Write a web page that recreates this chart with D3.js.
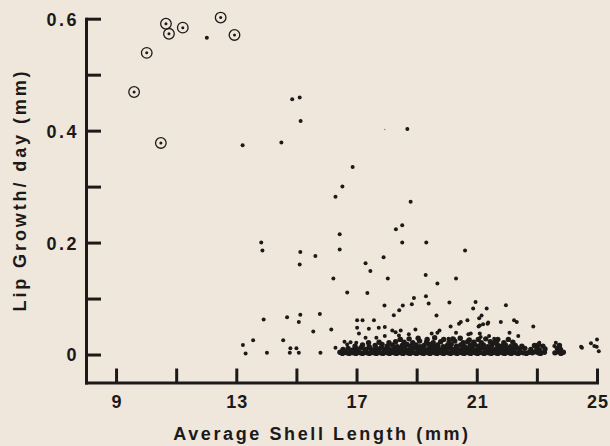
<!DOCTYPE html>
<html><head><meta charset="utf-8">
<script src="https://cdn.jsdelivr.net/npm/d3@7"></script>
<style>
html,body{margin:0;padding:0;background:#efe7dc;}
svg{display:block;}
text{font-family:"Liberation Sans",Arial,Helvetica,sans-serif;font-weight:bold;fill:#1c1a19;}
</style></head>
<body>
<svg id="chart" width="610" height="446"></svg>
<script>
// ---- data ----
const xTicks = [9, 11, 13, 15, 17, 19, 21, 23, 25];
const xTickLabels = {9: "9", 13: "13", 17: "17", 21: "21", 25: "25"};
const yTicks = [0, 0.1, 0.2, 0.3, 0.4, 0.5, 0.6];
const yTickLabels = {"0.0": "0", "0.2": "0.2", "0.4": "0.4", "0.6": "0.6"};
const xTitle = "Average Shell Length (mm)";
const yTitle = "Lip Growth/ day (mm)";

// circled observations [shell length, lip growth]
const circledPoints = [
  [10.66, 0.591], [10.76, 0.573], [11.22, 0.584], [12.48, 0.602], [12.94, 0.571],
  [10.02, 0.539], [9.60, 0.469], [10.49, 0.378]
];

// scattered single observations
const scatterPoints = [
  [12.02, 0.566], [13.21, 0.374], [14.86, 0.456], [15.11, 0.459], [15.14, 0.417], [14.50, 0.379],
  [18.69, 0.403], [16.87, 0.335], [16.53, 0.300], [16.30, 0.282], [18.80, 0.273], [18.52, 0.231],
  [18.31, 0.224], [16.44, 0.215], [13.83, 0.200], [13.87, 0.186], [15.13, 0.183], [15.63, 0.176],
  [16.44, 0.1875], [15.11, 0.161], [18.52, 0.200], [19.32, 0.200], [20.61, 0.186], [17.90, 0.174],
  [17.30, 0.163], [17.46, 0.149], [19.30, 0.142], [16.23, 0.136], [18.04, 0.136], [20.31, 0.136],
  [19.69, 0.127], [16.69, 0.111], [17.36, 0.110], [19.31, 0.104], [18.91, 0.101], [20.09, 0.093],
  [20.96, 0.094], [21.97, 0.088], [19.40, 0.091], [17.93, 0.0875], [18.54, 0.0875], [18.84, 0.090],
  [21.33, 0.082], [20.88, 0.082], [18.42, 0.079], [18.24, 0.070], [19.66, 0.0696], [21.16, 0.0696],
  [13.91, 0.0625], [14.69, 0.0666], [15.13, 0.071], [15.08, 0.058], [15.78, 0.0726], [16.16, 0.0446],
  [15.56, 0.041], [14.56, 0.0256], [13.56, 0.0256], [13.22, 0.017], [13.31, 0.002], [14.02, 0.003],
  [14.80, 0.011], [15.00, 0.011], [14.78, 0.003], [15.08, 0.003], [15.80, 0.003],
  [17.02, 0.061], [17.20, 0.061], [17.58, 0.061], [17.02, 0.048], [17.41, 0.046], [17.74, 0.048],
  [17.94, 0.049], [18.19, 0.043], [18.47, 0.043], [18.96, 0.0446], [19.76, 0.043], [20.13, 0.050],
  [20.47, 0.058], [20.69, 0.061], [21.10, 0.052], [21.38, 0.057], [21.80, 0.058], [22.24, 0.061],
  [22.33, 0.058], [22.88, 0.050], [22.09, 0.039], [22.38, 0.033], [20.31, 0.039], [20.80, 0.0375],
  [21.13, 0.0315], [21.58, 0.028], [24.47, 0.014], [25.00, 0.027], [24.91, 0.015], [25.06, 0.006],
  [23.58, 0.015], [23.80, 0.010], [16.30, 0.012], [16.60, 0.0226], [16.69, 0.018], [17.08, 0.0375],
  [18.30, 0.040], [18.74, 0.036], [18.41, 0.034], [17.30, 0.030], [17.66, 0.030], [17.94, 0.033],
  [16.80, 0.022], [16.99, 0.021], [18.47, 0.028], [20.41, 0.055], [19.69, 0.039], [19.50, 0.0375],
  [20.72, 0.036], [20.06, 0.028], [20.24, 0.028], [21.08, 0.065], [21.36, 0.055], [21.21, 0.054],
  [21.06, 0.050], [21.10, 0.0375], [21.41, 0.033], [23.08, 0.021], [23.63, 0.021], [24.50, 0.012],
  [24.80, 0.020], [24.99, 0.014]
];
const faintPoints = [[17.94, 0.402]];

// dense band of observations near zero growth
const bandPoints = [
  [16.45,.004],[16.53,.002],[16.60,.005],[16.68,.003],[16.76,.002],[16.83,.005],[16.90,.003],[16.98,.002],
  [17.06,.004],[17.13,.003],[17.20,.002],[17.28,.005],[17.35,.003],[17.43,.002],[17.50,.004],[17.58,.003],
  [17.66,.002],[17.73,.005],[17.80,.003],[17.88,.002],[17.95,.004],[18.03,.003],[18.10,.002],[18.18,.005],
  [18.25,.003],[18.33,.002],[18.40,.004],[18.48,.003],[18.55,.002],[18.63,.005],[18.70,.003],[18.78,.002],
  [18.85,.004],[18.93,.003],[19.00,.002],[19.08,.005],[19.15,.003],[19.23,.002],[19.30,.004],[19.38,.003],
  [19.45,.002],[19.53,.005],[19.60,.003],[19.68,.002],[19.75,.004],[19.83,.003],[19.90,.002],[19.98,.005],
  [20.05,.003],[20.13,.002],[20.20,.004],[20.28,.003],[20.35,.002],[20.43,.005],[20.50,.003],[20.58,.002],
  [20.65,.004],[20.73,.003],[20.80,.002],[20.88,.005],[20.95,.003],[21.03,.002],[21.10,.004],[21.18,.003],
  [21.25,.002],[21.33,.005],[21.40,.003],[21.48,.002],[21.55,.004],[21.63,.003],[21.70,.002],[21.78,.005],
  [21.85,.003],[21.93,.002],[22.00,.004],[22.08,.003],[22.15,.002],[22.23,.005],[22.30,.003],[22.38,.002],
  [22.45,.004],[22.55,.003],[22.65,.002],[22.75,.004],[22.85,.003],[22.95,.005],[23.05,.003],[23.12,.002],
  [23.25,.004],[23.60,.003],[23.70,.005],[23.80,.002],[23.88,.004],
  [16.55,.009],[16.72,.011],[16.88,.008],[17.00,.010],[17.15,.012],[17.30,.009],[17.45,.011],[17.57,.008],
  [17.70,.010],[17.82,.012],[17.93,.009],[18.05,.011],[18.15,.008],[18.27,.010],[18.37,.012],[18.50,.009],
  [18.60,.011],[18.72,.008],[18.82,.010],[18.95,.012],[19.05,.009],[19.17,.011],[19.27,.008],[19.40,.010],
  [19.50,.012],[19.62,.009],[19.72,.011],[19.85,.008],[19.95,.010],[20.07,.012],[20.17,.009],[20.30,.011],
  [20.40,.008],[20.52,.010],[20.62,.012],[20.75,.009],[20.85,.011],[20.97,.008],[21.07,.010],[21.20,.012],
  [21.30,.009],[21.42,.011],[21.52,.008],[21.65,.010],[21.75,.012],[21.88,.009],[21.98,.011],[22.10,.008],
  [22.20,.010],[22.33,.012],[22.43,.009],[22.60,.011],[22.80,.009],[23.00,.012],[23.08,.008],[23.27,.010],
  [23.68,.011],[23.78,.009],
  [16.95,.015],[17.20,.017],[17.42,.014],[17.62,.016],[17.85,.018],[18.02,.015],[18.20,.017],[18.35,.014],
  [18.52,.016],[18.68,.018],[18.80,.015],[18.98,.017],[19.12,.014],[19.25,.016],[19.42,.018],[19.57,.015],
  [19.70,.017],[19.88,.014],[20.02,.016],[20.15,.018],[20.33,.015],[20.47,.017],[20.60,.014],[20.78,.016],
  [20.92,.018],[21.05,.015],[21.22,.017],[21.37,.014],[21.50,.016],[21.68,.018],[21.82,.015],[21.95,.017],
  [22.12,.014],[22.28,.016],[22.50,.015],[22.92,.016],[23.05,.017],[23.20,.015],[23.75,.016],
  [17.40,.021],[17.75,.022],[18.08,.021],[18.30,.023],[18.58,.022],[18.87,.021],[19.10,.024],[19.33,.022],
  [19.55,.021],[19.80,.023],[20.08,.022],[20.27,.024],[20.55,.021],[20.70,.023],[20.90,.022],[21.15,.021],
  [21.45,.023],[21.60,.022],[21.90,.021],[22.20,.022],
  [18.45,.027],[18.75,.028],[19.05,.029],[19.35,.027],[19.60,.030],[19.90,.027],[20.20,.028],[20.45,.029],
  [20.75,.026],[21.05,.027],[21.30,.028],[21.70,.027],[22.05,.027]
];

// ---- chart ----
const svg = d3.select("#chart");
const ink = "#1c1a19";
const x = d3.scaleLinear().domain([8, 25]).range([86, 597]);
const y = d3.scaleLinear().domain([-0.05, 0.6]).range([382.5, 18.7]);

// x axis
const xAxis = d3.axisBottom(x).tickValues(xTicks).tickSizeInner(-14).tickSizeOuter(0).tickPadding(27)
  .tickFormat(d => xTickLabels[d] || "");
const gx = svg.append("g").attr("transform", `translate(0,${y(-0.05)})`).call(xAxis);

// y axis
const yAxis = d3.axisLeft(y).tickValues(yTicks).tickSizeInner(-15).tickSizeOuter(0).tickPadding(7)
  .tickFormat(d => yTickLabels[d.toFixed(1)] || "");
const gy = svg.append("g").attr("transform", `translate(${x(8)},0)`).call(yAxis);

[gx, gy].forEach(g => {
  g.select(".domain").attr("stroke", ink).attr("stroke-width", 3).attr("stroke-linecap", "square");
  g.selectAll(".tick line").attr("stroke", ink).attr("stroke-width", 3);
  g.selectAll(".tick text").attr("fill", ink).style("font-size", "18px")
    .style("font-family", '"Liberation Sans",Arial,sans-serif').style("font-weight", "bold");
});
gx.selectAll(".tick text").attr("dy", null).attr("y", 0)
  .style("letter-spacing", "1px").attr("transform", "translate(0.5,25.5)");
gy.selectAll(".tick text").attr("dy", "0.36em").style("letter-spacing", "2.5px");

// titles
svg.append("text").attr("x", 322).attr("y", 440).attr("text-anchor", "middle")
  .style("font-size", "18px").style("letter-spacing", "2.6px").text(xTitle);
svg.append("text").attr("transform", "translate(26,190) rotate(-90)").attr("text-anchor", "middle")
  .style("font-size", "18px").style("letter-spacing", "2.9px").text(yTitle);

// points
const pts = svg.append("g");
pts.selectAll("circle.band").data(bandPoints).join("circle").attr("class", "band")
  .attr("cx", d => x(d[0])).attr("cy", d => y(d[1])).attr("r", 2.7).attr("fill", ink);
pts.selectAll("circle.dot").data(scatterPoints).join("circle").attr("class", "dot")
  .attr("cx", d => x(d[0])).attr("cy", d => y(d[1])).attr("r", 2).attr("fill", ink);
pts.selectAll("circle.faint").data(faintPoints).join("circle").attr("class", "faint")
  .attr("cx", d => x(d[0])).attr("cy", d => y(d[1])).attr("r", 0.8).attr("fill", "#8a8580");
const circ = pts.selectAll("g.circled").data(circledPoints).join("g").attr("class", "circled")
  .attr("transform", d => `translate(${x(d[0])},${y(d[1])})`);
circ.append("circle").attr("r", 5.3).attr("fill", "none").attr("stroke", ink).attr("stroke-width", 1.3);
circ.append("circle").attr("r", 1.5).attr("fill", ink);
</script>
</body></html>
